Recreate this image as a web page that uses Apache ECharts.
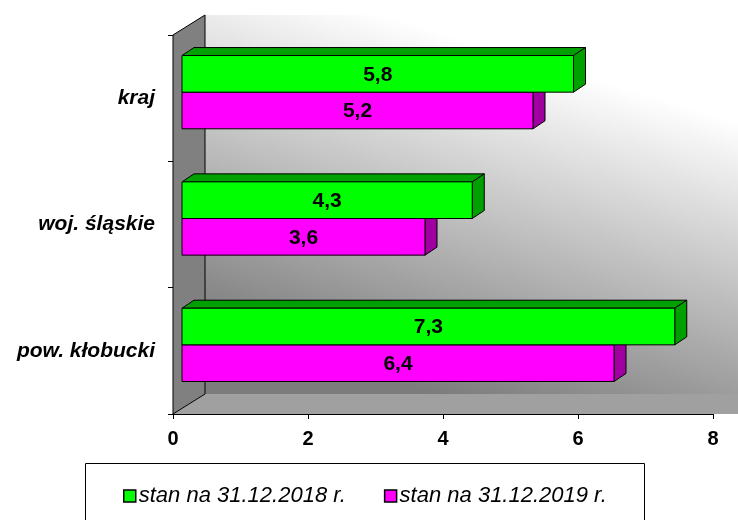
<!DOCTYPE html>
<html>
<head>
<meta charset="utf-8">
<script src="https://cdn.jsdelivr.net/npm/echarts@6/dist/echarts.min.js"></script>
<style>
  html, body { margin: 0; padding: 0; background: #fff; }
  #chart { width: 738px; height: 520px; }
</style>
</head>
<body>
<div id="chart"></div>
<script>
// kategorie od dołu do góry
const categories = ['pow. kłobucki', 'woj. śląskie', 'kraj'];
const seriesNames = ['stan na 31.12.2018 r.', 'stan na 31.12.2019 r.'];
const values2018 = [7.3, 4.3, 5.8];
const values2019 = [6.4, 3.6, 5.2];

const FONT = '"Liberation Sans", Arial, sans-serif';

// głębokość ścian i słupków (efekt 3D)
const WALL_DX = 32, WALL_DY = 20;
const OFF_X = 9, OFF_Y = -6;
const BAR_DX = 12, BAR_DY = 8;

const chartDom = document.getElementById('chart');
let chart = echarts.init(chartDom);

function fmt(v) {
    return String(v).replace('.', ',');
}

function renderWalls(params, api) {
    const cs = params.coordSys;
    const x = cs.x, y = cs.y, w = cs.width, h = cs.height;
    return {
        type: 'group',
        children: [
            {
                type: 'rect',
                shape: { x: x + WALL_DX, y: y - WALL_DY, width: w + WALL_DX, height: h },
                style: {
                    fill: new echarts.graphic.LinearGradient(0.6, 0, 0.4, 1, [
                        { offset: 0, color: '#ffffff' },
                        { offset: 0.12, color: '#ffffff' },
                        { offset: 1, color: '#7c7c7c' }
                    ])
                }
            },
            {
                type: 'polygon',
                shape: { points: [[x, y + h], [x + w + WALL_DX, y + h], [x + w + 2 * WALL_DX, y + h - WALL_DY], [x + WALL_DX, y + h - WALL_DY]] },
                style: { fill: '#a0a0a0' }
            },
            {
                type: 'polygon',
                shape: { points: [[x, y], [x + WALL_DX, y - WALL_DY], [x + WALL_DX, y + h - WALL_DY], [x, y + h]] },
                style: { fill: '#808080', stroke: '#000', lineWidth: 1 }
            }
        ]
    };
}

function bar3d(upper, front, dark) {
    return function (params, api) {
        const val = api.value(0);
        const cat = api.value(1);
        const p0 = api.coord([0, cat]);
        const p1 = api.coord([val, cat]);
        const bh = api.size([0, 1])[1] * 0.29;
        const x0 = p0[0] + OFF_X;
        const x1 = p1[0] + OFF_X;
        const y0 = upper ? p0[1] + OFF_Y - bh : p0[1] + OFF_Y;
        const y1 = y0 + bh;
        const edge = { stroke: '#000', lineWidth: 1 };
        return {
            type: 'group',
            children: [
                {
                    type: 'polygon',
                    shape: { points: [[x0, y0], [x0 + BAR_DX, y0 - BAR_DY], [x1 + BAR_DX, y0 - BAR_DY], [x1, y0]] },
                    style: Object.assign({ fill: dark }, edge)
                },
                {
                    type: 'polygon',
                    shape: { points: [[x1, y0], [x1 + BAR_DX, y0 - BAR_DY], [x1 + BAR_DX, y1 - BAR_DY], [x1, y1]] },
                    style: Object.assign({ fill: dark }, edge)
                },
                {
                    type: 'rect',
                    shape: { x: x0, y: y0, width: x1 - x0, height: bh },
                    style: Object.assign({ fill: front }, edge)
                },
                {
                    type: 'text',
                    style: {
                        x: (x0 + x1) / 2,
                        y: (y0 + y1) / 2 + 1,
                        text: fmt(val),
                        font: 'bold 21px ' + FONT,
                        fill: '#000',
                        align: 'center',
                        verticalAlign: 'middle'
                    }
                }
            ]
        };
    };
}

let option = {
    backgroundColor: '#ffffff',
    animation: false,
    grid: {
        left: 173,
        right: 25,
        top: 35,
        bottom: 106
    },
    graphic: [
        {
            type: 'rect',
            left: 85,
            top: 463,
            shape: { width: 559, height: 62 },
            style: { fill: '#fff', stroke: '#000', lineWidth: 1 },
            z: 0
        }
    ],
    legend: {
        data: seriesNames,
        left: 123,
        top: 485,
        padding: 0,
        itemGap: 38,
        itemWidth: 12,
        itemHeight: 12,
        z: 10,
        icon: 'rect',
        itemStyle: { borderColor: '#000', borderWidth: 1.5 },
        textStyle: {
            fontFamily: FONT,
            fontStyle: 'italic',
            fontSize: 22,
            color: '#000',
            padding: [0, 0, 0, -2]
        }
    },
    xAxis: {
        type: 'value',
        min: 0,
        max: 8,
        interval: 2,
        axisLine: { show: true, lineStyle: { color: '#000', width: 1 } },
        axisTick: { show: true, length: 5, lineStyle: { color: '#000' } },
        splitLine: { show: false },
        axisLabel: {
            margin: 15,
            fontFamily: FONT,
            fontWeight: 'bold',
            fontSize: 20,
            color: '#000'
        }
    },
    yAxis: {
        type: 'category',
        data: categories,
        axisLine: { show: true, lineStyle: { color: '#000', width: 1 } },
        axisTick: { show: true, length: 5, lineStyle: { color: '#000' } },
        splitLine: { show: false },
        axisLabel: {
            margin: 18,
            fontFamily: FONT,
            fontWeight: 'bold',
            fontStyle: 'italic',
            fontSize: 21,
            color: '#000'
        }
    },
    series: [
        {
            name: 'walls',
            type: 'custom',
            z: 1,
            clip: false,
            silent: true,
            renderItem: renderWalls,
            data: [[0, 0]],
            encode: { x: 0, y: 1 }
        },
        {
            name: seriesNames[1],
            type: 'custom',
            z: 2,
            clip: false,
            itemStyle: { color: '#ff00ff' },
            renderItem: bar3d(false, '#ff00ff', '#a000a0'),
            data: values2019.map((v, i) => [v, i]),
            encode: { x: 0, y: 1 }
        },
        {
            name: seriesNames[0],
            type: 'custom',
            z: 3,
            clip: false,
            itemStyle: { color: '#00ff00' },
            renderItem: bar3d(true, '#00ff00', '#00a000'),
            data: values2018.map((v, i) => [v, i]),
            encode: { x: 0, y: 1 }
        }
    ]
};

option && chart.setOption(option);
</script>
</body>
</html>
